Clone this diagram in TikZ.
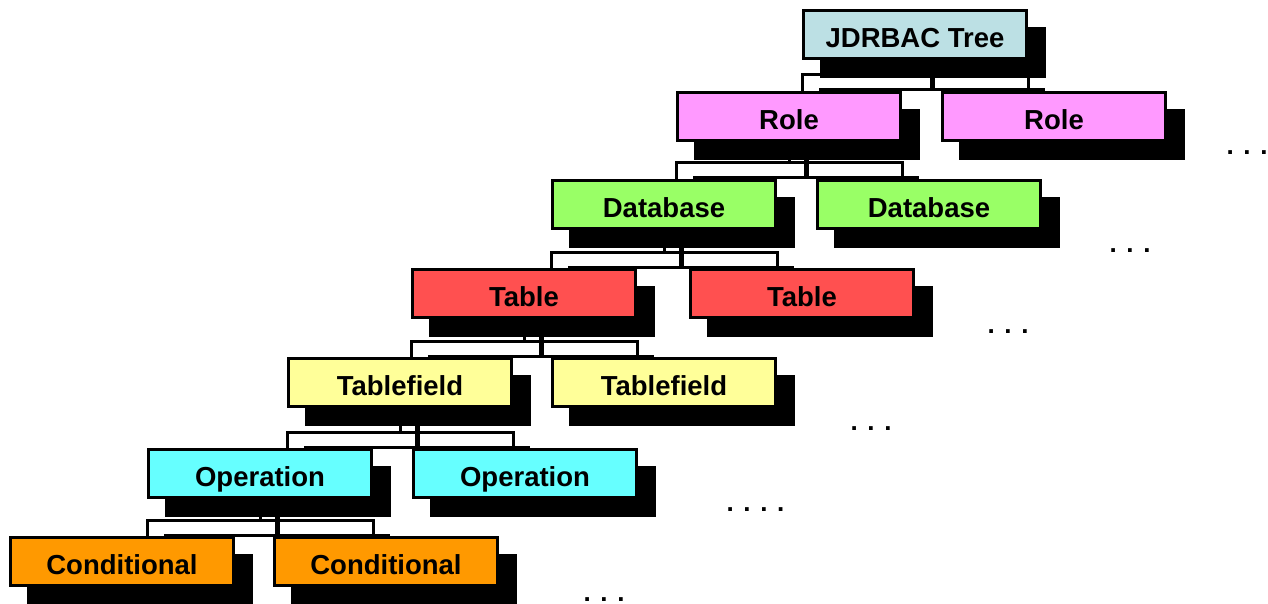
\documentclass[tikz,border=0pt]{standalone}
\usepackage{fontspec}
\setmainfont{Liberation Sans}
\usetikzlibrary{calc}
\pgfdeclarelayer{bg}
\pgfdeclarelayer{conn}
\pgfsetlayers{bg,conn,main}
\definecolor{cRoot}{HTML}{BCE0E4}
\definecolor{cRole}{HTML}{FF99FF}
\definecolor{cDb}{HTML}{99FF66}
\definecolor{cTab}{HTML}{FF5050}
\definecolor{cFld}{HTML}{FFFF99}
\definecolor{cOp}{HTML}{66FFFF}
\definecolor{cCond}{HTML}{FF9900}
\tikzset{
  box/.style={draw=black, line width=3pt, anchor=north west, minimum width=223pt, minimum height=48pt,
    inner sep=0pt, text height=26pt, text depth=0pt, font=\fontsize{27.5}{30}\selectfont\bfseries},
  connline/.style={draw=black, line width=3pt, line join=miter},
  dots/.style={anchor=base west, inner sep=0pt, font=\fontsize{26}{30}\selectfont\bfseries}
}
\newcommand\shad[1]{%
  \begin{pgfonlayer}{bg}
    \fill[black] ($(#1.south west)+(18,18)$) rectangle ($(#1.north east)+(18,18)$);
  \end{pgfonlayer}}
\newcommand\tbracket[2]{% #1 parent, #2 first child
  \coordinate (#1-bar) at ($(#1.south |- #2.north)+(0,-16)$);
  \coordinate (#1-ss) at ($(#1.south)+(17,0)$);
  \coordinate (#1-l) at (#1.south west |- #2.north);
  \coordinate (#1-r) at (#1.south east |- #2.north);
  \begin{pgfonlayer}{bg}
    \draw[line width=5pt] (#1-ss) -- (#1-ss |- #2.north);
    \draw[line width=3pt] ($(#1-l)+(17,-1)$) -- ($(#1-r)+(17,-1)$);
  \end{pgfonlayer}
  \begin{pgfonlayer}{conn}
    \draw[connline] (#1.south) -- (#1-bar);
    \draw[connline] (#1-l) |- (#1-bar) -| (#1-r);
  \end{pgfonlayer}}
\begin{document}
\begin{tikzpicture}[x=1pt,y=-1pt]
\useasboundingbox (0,0) rectangle (1268,604);
\begin{pgfonlayer}{bg}
\fill[white] (0,0) rectangle (1268,604);
\end{pgfonlayer}
% boxes
\node[box, fill=cRoot] (root) at (802,9) {JDRBAC Tree};
\node[box, fill=cRole] (r1) at (676,91) {Role};
\node[box, fill=cRole] (r2) at (941,91) {Role};
\node[box, fill=cDb] (d1) at (551,179) {Database};
\node[box, fill=cDb] (d2) at (816,179) {Database};
\node[box, fill=cTab] (t1) at (411,268) {Table};
\node[box, fill=cTab] (t2) at (689,268) {Table};
\node[box, fill=cFld] (f1) at (287,357) {Tablefield};
\node[box, fill=cFld] (f2) at (551,357) {Tablefield};
\node[box, fill=cOp] (o1) at (147,448) {Operation};
\node[box, fill=cOp] (o2) at (412,448) {Operation};
\node[box, fill=cCond] (c1) at (9,536) {Conditional};
\node[box, fill=cCond] (c2) at (273,536) {Conditional};
% shadows
\shad{root}\shad{r1}\shad{r2}\shad{d1}\shad{d2}\shad{t1}\shad{t2}
\shad{f1}\shad{f2}\shad{o1}\shad{o2}\shad{c1}\shad{c2}
% brackets
\tbracket{root}{r1}
\tbracket{r1}{d1}
\tbracket{d1}{t1}
\tbracket{t1}{f1}
\tbracket{f1}{o1}
\tbracket{o1}{c1}
% continuation dots
\node[dots] (e1) at (1226.4,155) {. . .};
\node[dots] (e2) at (1109.4,252) {. . .};
\node[dots] (e3) at (987.4,333) {. . .};
\node[dots] (e4) at (850.4,430) {. . .};
\node[dots] (e5) at (726.4,511) {. . . .};
\node[dots] (e6) at (583.4,601) {. . .};
\end{tikzpicture}
\end{document}
